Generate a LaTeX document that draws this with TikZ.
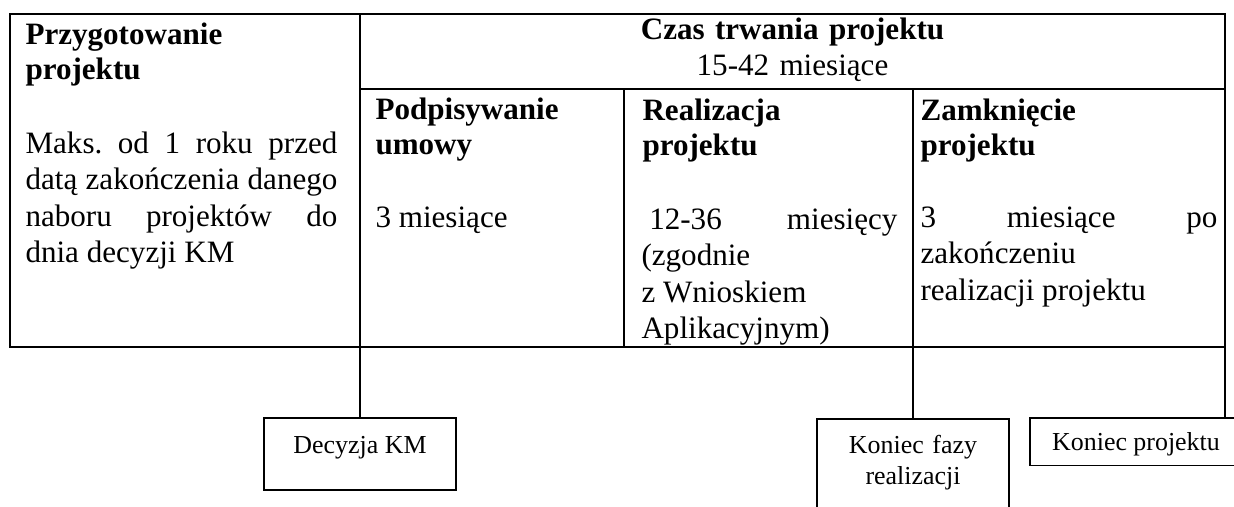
\documentclass[tikz,border=0pt]{standalone}
\usepackage{fontspec}
\setmainfont{Liberation Serif}
\frenchspacing
\tikzset{
  tabline/.style={line width=0.9pt},
  link/.style={line width=0.4pt},
  cell/.style={anchor=base west, inner sep=0pt, align=justify,
    font=\fontsize{12}{14.1}\selectfont},
  head/.style={anchor=base west, inner sep=0pt, align=left,
    font=\bfseries\fontsize{12}{13.6}\selectfont},
  milestone/.style={draw, line width=0.6pt, inner sep=0pt, anchor=north,
    align=center, font=\fontsize{10}{11.8}\selectfont}
}
\begin{document}
\begin{tikzpicture}[x=0.386pt, y=-0.386pt]
  \useasboundingbox (0,0) rectangle (1234,506);
  \clip (0,0) rectangle (1234,506);
  % table
  \draw[tabline] (10,14) rectangle (1225,347);
  \draw[tabline] (360,14) -- (360,347);
  \draw[tabline] (360,89) -- (1225,89);
  \draw[tabline] (624,89) -- (624,347);
  \draw[tabline] (913,89) -- (913,347);
  \coordinate (prep) at (360,347);
  \coordinate (real) at (913,347);
  \coordinate (end) at (1225,347);
  % cells
  \node[head, text width=120.4pt] (prephead) at (25,44) {Przygotowanie\\projektu};
  \node[cell, text width=120.4pt] (prepbody) at (25,153)
    {Maks. od 1 roku przed\linebreak datą zakończenia danego\linebreak
     naboru projektów do\linebreak dnia decyzji KM};
  \node[head, anchor=base, align=center, text width=333.9pt] (czas) at (792.5,39)
    {Czas trwania projektu\\[0.6pt]{\mdseries 15-42 miesiące}};
  \node[head, text width=96.5pt] (signhead) at (375,119) {Podpisywanie\\umowy};
  \node[cell, text width=96.5pt] (signbody) at (375,227) {3 miesiące};
  \node[head, text width=98.8pt] (realhead) at (642,120) {Realizacja\\projektu};
  \node[cell, text width=98.8pt] (realbody) at (641,229)
    {\hspace*{0.25em}12-36 miesięcy\linebreak (zgodnie\\z Wnioskiem\\Aplikacyjnym)};
  \node[head, text width=114.6pt] (closehead) at (920,120) {Zamknięcie\\projektu};
  \node[cell, text width=114.6pt] (closebody) at (920,227)
    {3 miesiące po\linebreak zakończeniu\\realizacji projektu};
  % milestones
  \node[milestone, minimum width=74.1pt, text height=13.9pt, text depth=13.9pt]
    (decyzja) at (360,417) {Decyzja KM};
  \node[milestone, text width=74.1pt, text height=13.5pt, text depth=29.7pt]
    (fazy) at (913,418) {Koniec fazy\\realizacji};
  \node[milestone, minimum width=81.8pt, text height=12.7pt, text depth=5.8pt]
    (koniec) at (1136,417) {Koniec projektu};
  \draw[link] (prep) -- (decyzja.north);
  \draw[link] (real) -- (fazy.north);
  \draw[link] (end) -- (end |- koniec.north);
\end{tikzpicture}
\end{document}
